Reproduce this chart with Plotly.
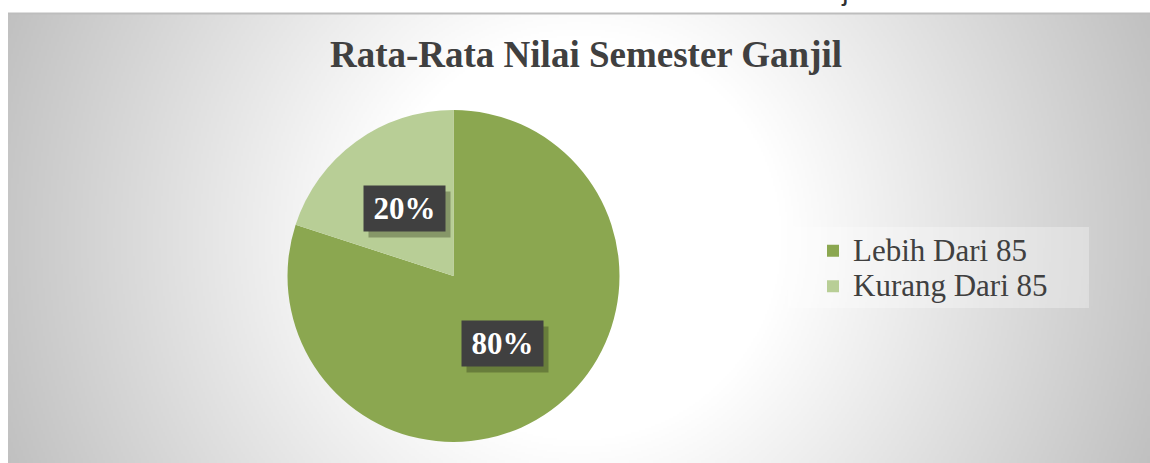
import math, zlib, struct, base64
import plotly.graph_objects as go

# ---- data ----
categories = ["Lebih Dari 85", "Kurang Dari 85"]
values = [80, 20]
colors = ["#8BA750", "#B8CE96"]
title_text = "Rata-Rata Nilai Semester Ganjil"
caption_text = "Gambar 3. Rata-Rata Nilai Semester Ganjil"

W, H = 1150, 463
BOX_L, BOX_T = 8, 13

# ---- radial gradient background image (grayscale PNG) ----
def make_png(w, h, scale):
    cx, cy = (W - BOX_L) / 2.0, (H - BOX_T) / 2.0
    raw = bytearray()
    for j in range(h):
        raw.append(0)
        py = (j + 0.5) * scale
        for i in range(w):
            px = (i + 0.5) * scale
            d = math.hypot(px - cx, py - cy)
            t = min(max((d - 200) / 414.0, 0.0), 1.0)
            raw.append(int(round(255 - 63 * t)))
    def chunk(tag, data):
        c = struct.pack(">I", len(data)) + tag + data
        return c + struct.pack(">I", zlib.crc32(tag + data) & 0xffffffff)
    png = b"\x89PNG\r\n\x1a\n"
    png += chunk(b"IHDR", struct.pack(">IIBBBBB", w, h, 8, 0, 0, 0, 0))
    png += chunk(b"IDAT", zlib.compress(bytes(raw), 9))
    png += chunk(b"IEND", b"")
    return "data:image/png;base64," + base64.b64encode(png).decode()

bg_src = make_png((W - BOX_L) // 2, (H - BOX_T) // 2, 2)

# ---- pie geometry (pixels) ----
PCX, PCY, R = 453.5, 276, 166
dom_x = [(PCX - R) / W, (PCX + R) / W]
dom_y = [(H - PCY - R) / H, (H - PCY + R) / H]

legend_labels = [f"<span style='font-size:31px'>{c}</span>" for c in categories]

fig = go.Figure()
fig.add_trace(go.Pie(
    labels=legend_labels, values=values, sort=False, direction="clockwise", rotation=0,
    marker=dict(colors=colors, line=dict(width=0)),
    textinfo="none", hoverinfo="label+percent",
    domain=dict(x=dom_x, y=dom_y),
))

# label boxes positioned along slice mid-angles
annotations = []
total = sum(values)
cum = 0
for v in values:
    mid = (cum + v / 2) / total * 2 * math.pi
    cum += v
    lx = PCX + 0.5 * R * math.sin(mid)
    ly = PCY - 0.5 * R * math.cos(mid)
    pct = f"{round(v / total * 100)}%"
    # shadow
    annotations.append(dict(
        x=(lx + 5) / W, y=(H - ly - 6) / H, xref="paper", yref="paper",
        xanchor="center", yanchor="middle",
        text="", showarrow=False, width=81, height=45,
        bgcolor="rgba(40,50,20,0.35)", borderpad=0,
    ))
    annotations.append(dict(
        x=lx / W, y=(H - ly) / H, xref="paper", yref="paper",
        xanchor="center", yanchor="middle",
        text=f"<b>{pct}</b>", showarrow=False, width=81, height=45,
        bgcolor="#404040", borderpad=0,
        font=dict(family="Liberation Serif", size=31, color="white"),
    ))

annotations.append(dict(
    x=592 / W, y=(H + 9.7) / H, xref="paper", yref="paper",
    xanchor="center", yanchor="middle",
    text=caption_text, showarrow=False,
    font=dict(family="Liberation Sans", size=28, color="#303030"),
))

fig.update_layout(
    width=W, height=H,
    margin=dict(l=0, r=0, t=0, b=0),
    paper_bgcolor="white", plot_bgcolor="white",
    images=[dict(source=bg_src, xref="paper", yref="paper",
                 x=BOX_L / W, y=(H - BOX_T) / H, sizex=(W - BOX_L) / W, sizey=(H - BOX_T) / H,
                 xanchor="left", yanchor="top", sizing="stretch", layer="below")],
    shapes=[
        dict(type="line", xref="paper", yref="paper",
             x0=BOX_L / W, x1=1, y0=(H - BOX_T - 0.5) / H, y1=(H - BOX_T - 0.5) / H,
             line=dict(color="#bdbdbd", width=2)),
        dict(type="rect", xref="paper", yref="paper", layer="below",
             x0=788 / W, x1=1089 / W, y0=(H - 308) / H, y1=(H - 227) / H,
             fillcolor="rgba(255,255,255,0.3)", line=dict(width=0)),
    ],
    title=dict(text=f"<b>{title_text}</b>", x=586 / W, xanchor="center",
               y=(H - 54) / H, yanchor="middle",
               font=dict(family="Liberation Serif", size=37, color="#404040")),
    legend=dict(x=813 / W, y=(H - 228) / H, xanchor="left", yanchor="top",
                bgcolor="rgba(0,0,0,0)",
                font=dict(family="Liberation Serif", size=25, color="#404040"),
                itemsizing="constant", tracegroupgap=0),
    annotations=annotations,
    showlegend=True,
)

fig.write_html("out.html")
